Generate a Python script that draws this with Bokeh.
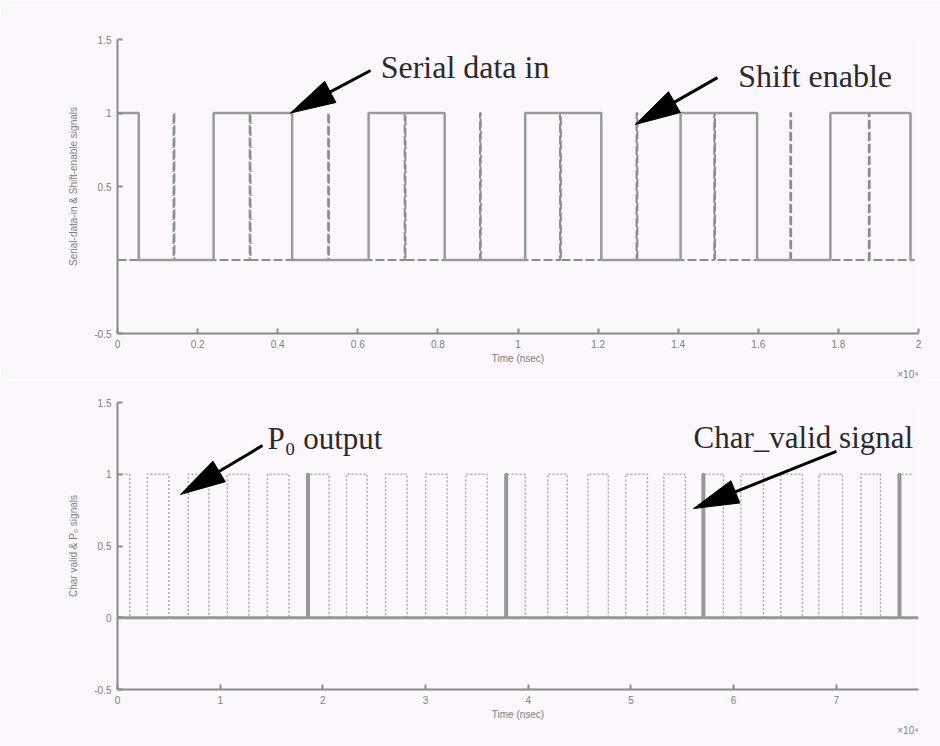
import math
from bokeh.plotting import figure
from bokeh.models import FixedTicker, Label, Title
from bokeh.layouts import column
from bokeh.embed import file_html
from bokeh.resources import INLINE

# ---------------- data ----------------
top_x_ticks = [0, 0.2, 0.4, 0.6, 0.8, 1.0, 1.2, 1.4, 1.6, 1.8, 2.0]
top_x_labels = ["0", "0.2", "0.4", "0.6", "0.8", "1", "1.2", "1.4", "1.6", "1.8", "2"]
top_y_ticks = [-0.5, 0.5, 1.0, 1.5]
top_y_labels = ["-0.5", "0.5", "1", "1.5"]

bot_x_ticks = [0, 1, 2, 3, 4, 5, 6, 7]
bot_x_labels = ["0", "1", "2", "3", "4", "5", "6", "7"]
bot_y_ticks = [-0.5, 0, 0.5, 1.0, 1.5]
bot_y_labels = ["-0.5", "0", "0.5", "1", "1.5"]

# Serial data in: edge times (x10^4 nsec) and level held in each interval
serial_edges = [0.0, 0.053, 0.24, 0.436, 0.627, 0.817, 1.018, 1.208, 1.406,
                1.597, 1.78, 1.98, 1.99]
serial_levels = [1, 0, 1, 0, 1, 0, 1, 0, 1, 0, 1, 0]

# Shift enable: narrow pulses
shift_pulses = [0.14, 0.33, 0.526, 0.717, 0.905, 1.105, 1.296, 1.49, 1.68, 1.876]
shift_end = 1.99

# P0 output: edge times and level in each interval
p0_edges = [0.0, 0.12, 0.29, 0.50, 0.69, 0.89, 1.07, 1.28, 1.46, 1.67, 1.85,
            2.06, 2.23, 2.43, 2.61, 2.82, 3.00, 3.21, 3.39, 3.60, 3.78, 3.97,
            4.19, 4.38, 4.58, 4.78, 4.95, 5.16, 5.32, 5.53, 5.70, 5.90, 6.07,
            6.29, 6.46, 6.67, 6.83, 7.06, 7.24, 7.43, 7.61, 7.75]
p0_levels = [1, 0, 1, 0, 1, 0, 1, 0, 1, 0, 1, 0, 1, 0, 1, 0, 1, 0, 1, 0, 1,
             0, 1, 0, 1, 0, 1, 0, 1, 0, 1, 0, 1, 0, 1, 0, 1, 0, 1, 0, 1]

# Char_valid: narrow pulses
char_pulses = [1.85, 3.78, 5.70, 7.61]
char_end = 7.8

# ---------------- helpers ----------------
BG = "#fcf7fc"


def step_path(edges, levels):
    xs, ys = [], []
    for i, lv in enumerate(levels):
        xs += [edges[i], edges[i + 1]]
        ys += [lv, lv]
    return xs, ys


def pulse_path(times, end, w):
    xs, ys = [0.0], [0]
    for t in times:
        xs += [t, t, t + w, t + w]
        ys += [0, 1, 1, 0]
    xs.append(end)
    ys.append(0)
    return xs, ys


def style(p, xt, xl, yt, yl, ylabel):
    p.grid.visible = False
    p.xaxis.ticker = FixedTicker(ticks=xt)
    p.xaxis.major_label_overrides = {t: l for t, l in zip(xt, xl)}
    p.yaxis.ticker = FixedTicker(ticks=yt)
    p.yaxis.major_label_overrides = {t: l for t, l in zip(yt, yl)}
    for ax in (p.xaxis[0], p.yaxis[0]):
        ax.major_tick_in = 5
        ax.major_tick_out = 0
        ax.minor_tick_line_color = None
        ax.axis_line_color = "#8a8a8a"
        ax.axis_line_width = 2
        ax.major_tick_line_color = "#8a8a8a"
        ax.major_tick_line_width = 2
        ax.major_label_text_font = "Liberation Sans"
        ax.major_label_text_font_size = "10px"
        ax.major_label_text_color = "#808080"
        ax.axis_label_text_font = "Liberation Sans"
        ax.axis_label_text_font_size = "10px"
        ax.axis_label_text_font_style = "normal"
        ax.axis_label_text_color = "#808080"
    p.xaxis.axis_label = "Time (nsec)"
    p.xaxis.major_label_standoff = 6
    p.xaxis.axis_label_standoff = 2
    p.yaxis.axis_label = ylabel
    p.yaxis.major_label_standoff = 6
    p.yaxis.axis_label_standoff = 12
    p.add_layout(Title(text="×10⁴", align="right", text_font="Liberation Sans",
                       text_font_size="10px", text_font_style="normal",
                       text_color="#808080", standoff=0), "below")


def add_arrow(p, tip, tail, sx, sy, head_len=45, head_w=24):
    dx = (tail[0] - tip[0]) * sx
    dy = (tail[1] - tip[1]) * sy
    L = math.hypot(dx, dy)
    ux, uy = dx / L, dy / L
    nx, ny = -uy, ux
    bx, by = ux * head_len, uy * head_len
    pts = [(0, 0), (bx + nx * head_w / 2, by + ny * head_w / 2),
           (bx - nx * head_w / 2, by - ny * head_w / 2)]
    xs = [tip[0] + px / sx for px, py in pts]
    ys = [tip[1] + py / sy for px, py in pts]
    p.patch(xs, ys, fill_color="black", line_color="black", line_width=1)
    p.line([tip[0] + 0.8 * bx / sx, tail[0]], [tip[1] + 0.8 * by / sy, tail[1]],
           line_width=3, line_color="black")


def text_label(p, x, y, txt, size="32px"):
    p.add_layout(Label(x=x, y=y, text=txt, text_font="Liberation Serif",
                       text_font_size=size, text_color="#2a2a2a",
                       text_baseline="alphabetic", text_align="left"))


W = 940
BL, BR = 117, 22
FW = W - BL - BR

# ---------------- top panel ----------------
top = figure(width=W, height=380, x_range=(0, 2), y_range=(-0.5, 1.5),
             output_backend="svg", toolbar_location=None,
             min_border_left=BL, min_border_right=BR,
             min_border_top=39, min_border_bottom=47,
             background_fill_color=BG, border_fill_color=BG,
             outline_line_color=None)
style(top, top_x_ticks, top_x_labels, top_y_ticks, top_y_labels,
      "Serial-data-in & Shift-enable signals")

sx_, sy_ = pulse_path(shift_pulses, shift_end, 0.002)
top.line(sx_, sy_, line_color="#8c8c8c", line_width=2, line_dash="9 3")
dx_, dy_ = step_path(serial_edges, serial_levels)
top.line(dx_, dy_, line_color="#9a9a9a", line_width=2.5)

tsx = FW / 2.0
tsy = 294 / 2.0
add_arrow(top, (0.432, 1.0), (0.632, 1.289), tsx, tsy)
add_arrow(top, (1.293, 0.922), (1.498, 1.241), tsx, tsy)
text_label(top, 0.657, 1.31, "Serial data in")
text_label(top, 1.55, 1.255, "Shift enable")

# ---------------- bottom panel ----------------
bot = figure(width=W, height=366, x_range=(0, 7.8), y_range=(-0.5, 1.5),
             output_backend="svg", toolbar_location=None,
             min_border_left=BL, min_border_right=BR,
             min_border_top=22, min_border_bottom=57,
             background_fill_color=BG, border_fill_color=BG,
             outline_line_color=None)
style(bot, bot_x_ticks, bot_x_labels, bot_y_ticks, bot_y_labels,
      "Char valid & P₀ signals")

px_, py_ = step_path(p0_edges, p0_levels)
bot.line(px_, py_, line_color="#ababab", line_width=1.5, line_dash="2 2")
cx_, cy_ = pulse_path(char_pulses, char_end, 0.01)
bot.line(cx_, cy_, line_color="#979797", line_width=3)

bsx = FW / 7.8
bsy = 287 / 2.0
add_arrow(bot, (0.613, 0.859), (1.412, 1.2), bsx, bsy)
add_arrow(bot, (5.61, 0.761), (7.0, 1.159), bsx, bsy)
text_label(bot, 1.46, 1.249, "P₀ output", "31px")
text_label(bot, 5.61, 1.256, "Char_valid signal", "31px")

layout = column(top, bot, spacing=0)
open("out.html", "w").write(file_html(layout, INLINE))
